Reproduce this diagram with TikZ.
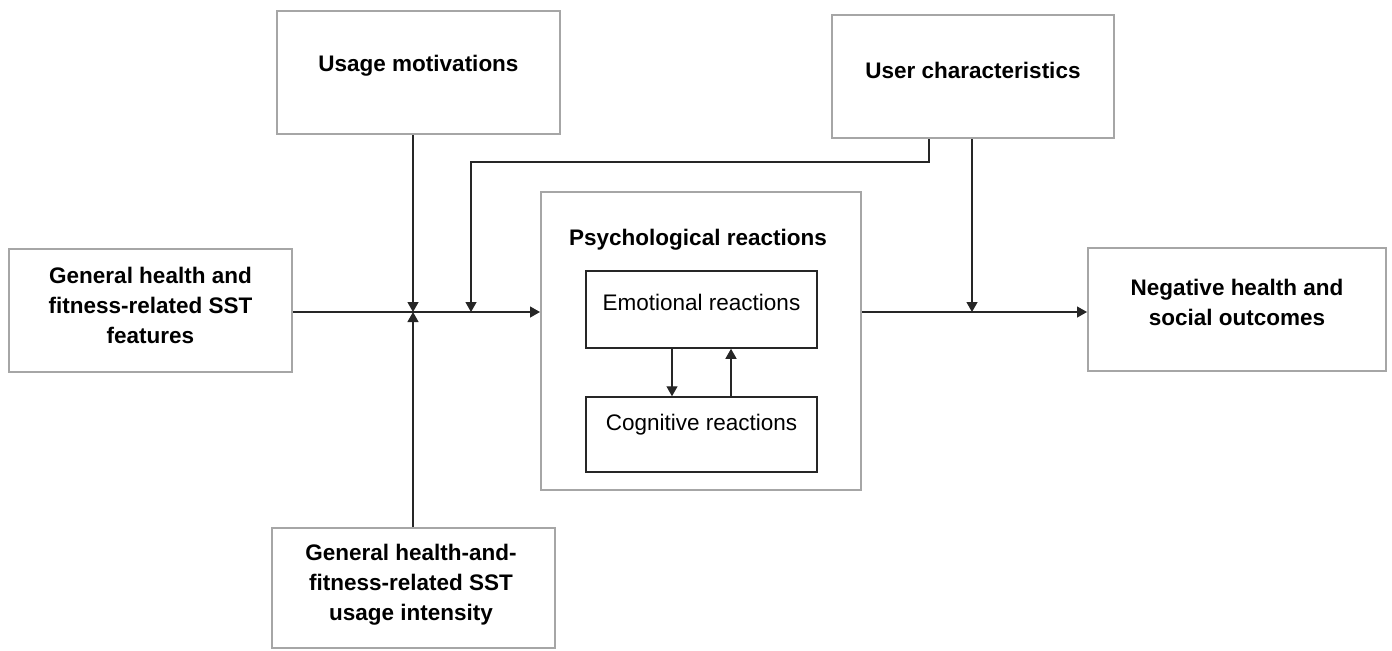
\documentclass[tikz,border=0pt]{standalone}
\usepackage{fontspec}
\setmainfont{Liberation Sans}
\usetikzlibrary{arrows.meta}
\definecolor{boxgray}{HTML}{A6A6A6}
\definecolor{linegray}{HTML}{262626}
\begin{document}
\begin{tikzpicture}[x=0.5pt,y=-0.5pt,
  outerbox/.style={draw=boxgray, line width=1pt, inner sep=0pt, fill=none},
  innerbox/.style={draw=linegray, line width=0.75pt, inner sep=0pt},
  lbl/.style={font=\fontsize{11.25}{15}\selectfont\bfseries, align=center, inner sep=0pt},
  lblr/.style={font=\fontsize{11.25}{15}\selectfont, align=center, inner sep=0pt},
  conn/.style={draw=linegray, line width=0.65pt},
  arr/.style={conn, -{Triangle[length=5pt,width=5.5pt]}}]
\useasboundingbox (0,0) rectangle (1392,650);

% boxes
\node[outerbox, minimum width=141.5pt, minimum height=61.5pt] (um) at (418.5,72.5) {};
\node[outerbox, minimum width=141pt, minimum height=61.5pt] (uc) at (973,76.5) {};
\node[outerbox, minimum width=141.5pt, minimum height=61.5pt] (lf) at (150.5,310.5) {};
\node[outerbox, minimum width=160pt, minimum height=149pt] (ps) at (701,341) {};
\node[innerbox, minimum width=115.5pt, minimum height=38.5pt] (em) at (701.5,309.5) {};
\node[innerbox, minimum width=115.5pt, minimum height=37.5pt] (co) at (701.5,434.5) {};
\node[outerbox, minimum width=149pt, minimum height=61.5pt] (ng) at (1237,309.5) {};
\node[outerbox, minimum width=141.5pt, minimum height=60pt] (bt) at (413.5,588) {};

% labels
\node[lbl] (umt) at (418.5,66) {Usage motivations};
\node[lbl] (uct) at (973,70) {User characteristics};
\node[lbl] (lft) at (150.5,305) {General health and\\fitness-related SST\\features};
\node[lbl] (pst) at (698,240) {Psychological reactions};
\node[lblr] (emt) at (701.5,302) {Emotional reactions};
\node[lblr] (cot) at (701.5,425) {Cognitive reactions};
\node[lbl] (ngt) at (1237,302) {Negative health and\\social outcomes};
\node[lbl] (btt) at (411,585) {General health-and-\\fitness-related SST\\usage intensity};

% junctions
\coordinate (j1) at (413,312);
\coordinate (j2) at (471,312);
\coordinate (j3) at (972,312);
\coordinate (k) at (929,162);
\coordinate (d1) at (672,0);
\coordinate (d2) at (731,0);

% connectors
\draw[arr] (lf.east |- j1) -- (ps.west |- j1);
\draw[arr] (ps.east |- j3) -- (ng.west |- j3);
\draw[arr] (j1 |- um.south) -- (j1);
\draw[arr] (j1 |- bt.north) -- (j1);
\draw[arr] (j3 |- uc.south) -- (j3);
\draw[arr] (k |- uc.south) -- (k) -- (k -| j2) -- (j2);
\draw[arr] (d1 |- em.south) -- (d1 |- co.north);
\draw[arr] (d2 |- co.north) -- (d2 |- em.south);
\end{tikzpicture}
\end{document}
